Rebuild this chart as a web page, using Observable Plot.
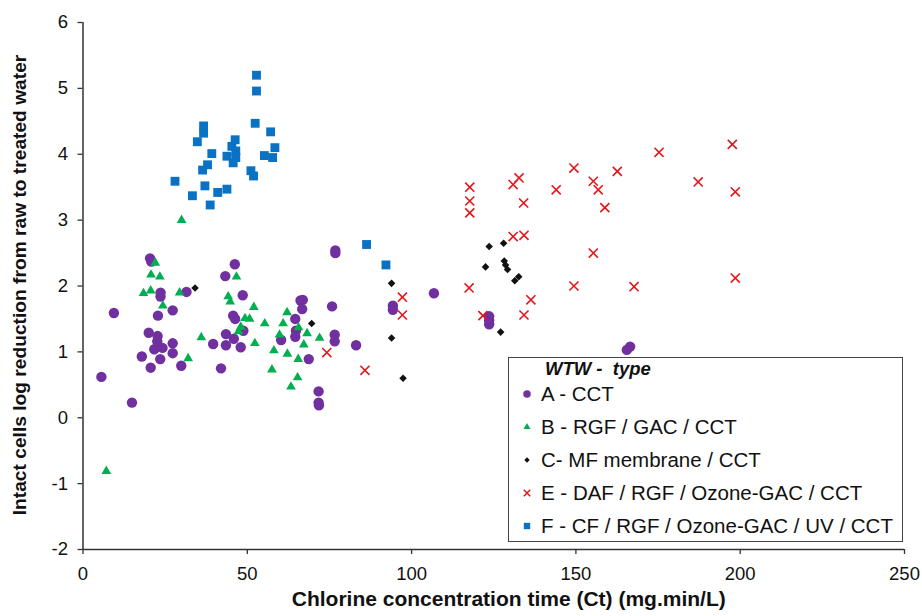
<!DOCTYPE html>
<html>
<head>
<meta charset="utf-8">
<script src="https://cdn.jsdelivr.net/npm/d3@7"></script>
<script src="https://cdn.jsdelivr.net/npm/@observablehq/plot@0.6"></script>
<style>
  body { margin: 0; background: #fff; font-family: "Liberation Sans", Arial, sans-serif; }
  #wrap { position: relative; width: 922px; height: 616px; }
  #legend { position: absolute; left: 508px; top: 357px; width: 395px; height: 185px;
            border: 1.3px solid #444; background: #fff; box-sizing: border-box; }
  #legend .title { position: absolute; left: 36px; top: 0px; font-size: 18.5px; font-weight: bold; font-style: italic; color: #111; white-space: pre; }
  #legend .row { position: absolute; left: 10px; height: 24px; display: flex; align-items: center; font-size: 20.5px; color: #111; white-space: nowrap; }
  #legend .row svg { width: 16px; height: 16px; margin-right: 6px; }
</style>
</head>
<body>
<div id="wrap"></div>
<script>
// Series values [Ct, log reduction]
const seriesA = [[5.6,0.62],[9.4,1.59],[14.9,0.23],[17.9,0.93],[20.4,2.42],[20.8,2.37],[20,1.29],[20.6,0.76],[21.7,1.04],[22.6,1.16],[22.7,1.24],[22.8,1.55],[23.5,0.89],[23.6,1.90],[23.6,1.84],[24.2,1.06],[27.3,1.63],[27.3,1.13],[27.3,0.98],[29.9,0.79],[31.5,1.91],[39.6,1.12],[42,0.75],[43.3,2.15],[43.5,1.27],[43.5,1.10],[45.7,1.55],[45.9,1.20],[46.2,2.33],[46.3,1.50],[48,1.07],[48.6,1.86],[48.8,1.32],[60.3,1.18],[64.6,1.50],[64.8,1.32],[64.6,1.23],[66.2,1.78],[66.9,1.79],[66.7,1.65],[68.7,0.89],[71.7,0.40],[71.7,0.23],[71.8,0.19],[75.8,1.69],[76.6,1.26],[76.6,1.16],[76.8,2.54],[76.8,2.50],[83.1,1.10],[94.3,1.70],[94.3,1.64],[106.8,1.89],[123.6,1.54],[123.6,1.48],[123.6,1.42],[165.5,1.03],[166.5,1.08]];
const seriesB = [[7.1,-0.81],[18.4,1.89],[20.6,1.93],[20.7,2.17],[22,2.35],[23.4,2.14],[24.3,1.70],[29.4,1.90],[30,3.0],[32,0.90],[36,1.22],[44.2,1.84],[44.8,1.76],[46.7,2.14],[47.3,1.31],[48,1.38],[49.3,1.51],[50.7,1.50],[52,1.68],[52.3,1.13],[55.3,1.43],[57.5,0.73],[58.1,1.02],[59.8,1.26],[60.9,1.43],[62.1,1.60],[62.2,0.97],[63.3,0.47],[65.3,0.61],[65.5,0.89],[65.6,1.37],[67.2,1.11],[68.2,1.28],[72,1.21]];
const seriesC = [[34.1,1.97],[69.6,1.43],[93.9,2.04],[93.9,1.21],[97.4,0.60],[122.5,2.29],[123.6,2.60],[127.1,1.30],[128,2.65],[128.2,2.38],[128.6,2.32],[129.2,2.25],[131.4,2.08],[132.6,2.14]];
const seriesE = [[74.2,0.99],[85.8,0.72],[97.2,1.83],[97.2,1.56],[117.7,3.50],[117.7,3.29],[117.7,3.11],[117.5,1.97],[121.7,1.55],[130.9,3.54],[132.7,3.64],[134.1,3.26],[130.9,2.75],[134.2,2.77],[136.3,1.79],[134.2,1.56],[144,3.46],[149.4,3.79],[149.4,2.00],[155.3,3.59],[156.8,3.46],[158.8,3.19],[155.3,2.50],[162.6,3.74],[167.7,1.99],[175.3,4.03],[187.2,3.58],[197.6,4.15],[198.5,3.43],[198.5,2.12]];
const seriesF = [[28,3.59],[33.3,3.37],[34.8,4.19],[36.4,3.76],[36.7,4.43],[36.7,4.32],[37.1,3.52],[37.9,3.84],[38.7,3.23],[39.2,4.01],[41,3.42],[43.8,3.97],[43.8,3.47],[45.3,4.12],[45.7,3.87],[46.3,4.22],[46.5,4.05],[46.5,3.95],[51.1,3.75],[51.9,3.67],[52.4,4.47],[52.8,5.20],[52.8,4.96],[55.2,3.98],[57.1,4.34],[57.7,3.95],[58.4,4.10],[86.3,2.63],[92.2,2.32]];

const legendLabels = ["A - CCT", "B - RGF / GAC / CCT", "C- MF membrane / CCT", "E - DAF / RGF / Ozone-GAC / CCT", "F - CF / RGF / Ozone-GAC / UV / CCT"];
const xTicks = [0, 50, 100, 150, 200, 250];
const yTicks = [-2, -1, 0, 1, 2, 3, 4, 5, 6];
const xTitle = "Chlorine concentration time (Ct) (mg.min/L)";
const yTitle = "Intact cells log reduction from raw to treated water";

const styles = [
  {symbol: "circle", fill: "#7030A0", r: 5.2},
  {symbol: "triangle", fill: "#00B050", r: 3.6},
  {symbol: "diamond2", fill: "#111111", r: 3.4},
  {symbol: "times", stroke: "#E3161B", r: 4.2},
  {symbol: "square", fill: "#0A72C4", r: 5.0}
];
const allSeries = [seriesA, seriesB, seriesC, seriesE, seriesF];

function dotMark(data, s) {
  const o = {x: d => d[0], y: d => d[1], symbol: s.symbol, r: s.r};
  if (s.fill) { o.fill = s.fill; o.stroke = "none"; }
  else { o.stroke = s.stroke; o.strokeWidth = 1.6; o.fill = "none"; }
  return Plot.dot(data, o);
}

const plot = Plot.plot({
  width: 922,
  height: 616,
  marginLeft: 82.5,
  marginRight: 18,
  marginTop: 22,
  marginBottom: 67,
  style: {fontFamily: "'Liberation Sans', Arial, sans-serif", fontSize: "18px", color: "#111", background: "#fff"},
  x: {domain: [0, 250]},
  y: {domain: [-2, 6]},
  marks: [
    Plot.axisX({ticks: xTicks, tickFormat: d => String(d), tickSize: 5, tickPadding: 12, label: null, stroke: "#333", strokeWidth: 1.3, fontSize: 18.5}),
    Plot.axisY({ticks: yTicks, tickFormat: d => String(d), tickSize: 5, tickPadding: 10, label: null, stroke: "#333", strokeWidth: 1.3, fontSize: 18.5}),
    Plot.ruleX([0], {stroke: "#333", strokeWidth: 1.5}),
    Plot.ruleY([-2], {stroke: "#333", strokeWidth: 1.5}),
    ...allSeries.map((d, i) => dotMark(d, styles[i])),
    Plot.text([xTitle], {frameAnchor: "bottom", textAnchor: "middle", dy: 56, dx: 15, fontWeight: "bold", fontSize: 21, fill: "#111"}),
    Plot.text([yTitle], {frameAnchor: "left", textAnchor: "middle", rotate: -90, dx: -63, dy: -1, fontWeight: "bold", fontSize: 19.2, fill: "#111"})
  ]
});

const wrap = document.getElementById("wrap");
wrap.appendChild(plot);

// Legend (HTML overlay)
const legend = document.createElement("div");
legend.id = "legend";
const title = document.createElement("div");
title.className = "title";
title.textContent = "WTW -  type";
legend.appendChild(title);
const rowTops = [24, 57, 90, 123, 156];
legendLabels.forEach((lab, i) => {
  const row = document.createElement("div");
  row.className = "row";
  row.style.top = (rowTops[i]) + "px";
  const s = styles[i];
  const svg = d3.create("svg").attr("viewBox", "-8 -8 16 16");
  const sym = {circle: d3.symbolCircle, triangle: d3.symbolTriangle, diamond2: d3.symbolDiamond2, times: d3.symbolTimes, square: d3.symbolSquare}[s.symbol];
  const size = Math.PI * Math.pow(s.r * 0.72, 2);
  const p = svg.append("path").attr("d", d3.symbol(sym, size)());
  if (s.fill) p.attr("fill", s.fill); else p.attr("fill", "none").attr("stroke", s.stroke).attr("stroke-width", 1.5);
  row.appendChild(svg.node());
  const span = document.createElement("span");
  span.textContent = lab;
  row.appendChild(span);
  legend.appendChild(row);
});
wrap.appendChild(legend);
</script>
</body>
</html>
